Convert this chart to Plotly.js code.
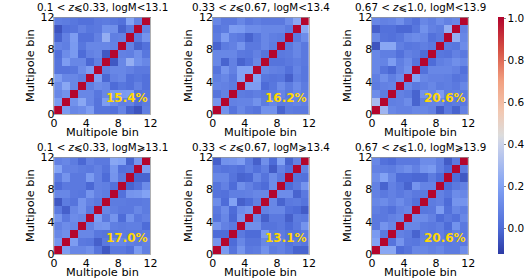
<!DOCTYPE html>
<html><head><meta charset="utf-8">
<script src="https://cdn.plot.ly/plotly-3.0.1.min.js"></script>
<style>html,body{margin:0;padding:0;background:#fff}</style></head>
<body><div id="chart" style="width:525px;height:280px"></div>
<script>
const binCentersX=[0.5,1.5,2.5,3.5,4.5,5.5,6.5,7.5,8.5,9.5,10.5,11.5];
const binCentersY=[11.5,10.5,9.5,8.5,7.5,6.5,5.5,4.5,3.5,2.5,1.5,0.5];
const tickValues=[0,4,8,12];
const titles=["0.1 < <i>z</i>⩽0.33, logM<13.1","0.33 < <i>z</i>⩽0.67, logM<13.4","0.67 < <i>z</i>⩽1.0, logM<13.9",
"0.1 < <i>z</i>⩽0.33, logM⩾13.1","0.33 < <i>z</i>⩽0.67, logM⩾13.4","0.67 < <i>z</i>⩽1.0, logM⩾13.9"];
const percents=["15.4%","16.2%","20.6%","17.0%","13.1%","20.6%"];
const m1=[
[.07,.06,.04,.02,.02,.05,.06,.04,.02,.2,.08,1],
[-.06,.02,.03,.08,.04,.05,.14,.13,-.02,.05,1,.08],
[-.02,.08,.18,.02,.02,.08,.25,.07,.08,1,.05,.15],
[.09,.07,.17,.04,.1,.1,.1,.08,1,.08,-.02,.02],
[.02,.12,.17,.0,.08,.1,-.05,1,.08,.07,.13,.04],
[.03,.18,.1,.1,-.01,.07,1,-.05,.1,.25,.14,.1],
[.03,.03,.04,.12,.18,1,.07,.1,.1,.08,.05,.05],
[.18,.1,.1,.07,1,.18,-.01,.08,.1,.02,.04,.02],
[.12,.22,.1,1,.07,.12,.1,.0,.04,.02,.08,.02],
[.1,.14,1,.1,.1,.04,.1,.17,.17,.18,.03,.04],
[.17,1,.14,.22,.1,.03,.18,.12,.07,.08,.02,.06],
[1,.17,.1,.12,.18,.03,.03,.02,.09,-.02,-.06,.07]];
const m2=[
[.1,.05,.05,.1,.05,.07,.05,.05,.05,.12,.22,1],
[.04,.06,.18,.17,.12,.12,.1,.1,.1,.06,1,.22],
[.06,.18,.07,.05,-.02,.04,.1,.07,.06,1,.05,.12],
[-.02,.06,.08,.15,.05,.05,.1,.06,1,.05,.1,.05],
[.1,.1,.1,.05,.04,.08,.03,1,.05,.06,.1,.05],
[.1,-.02,.08,-.02,.02,.1,1,.03,.03,.05,.07,.05],
[.03,.15,.08,.2,.2,1,.1,.08,.07,.02,.09,.04],
[.07,.1,.05,.2,1,.2,.04,.03,.04,-.03,.07,.04],
[.09,.08,.06,1,.18,.18,.0,.04,.12,.06,.12,.06],
[.03,.08,1,.06,.05,.07,.05,.06,.09,.05,.1,.07],
[.15,1,.08,.09,.09,.14,.06,.1,.06,.07,.09,.07],
[1,.14,.03,.1,.05,.03,.14,.14,-.02,.06,.05,.05]];
const m3=[
[.1,.08,.09,.13,.06,.02,.1,.07,.12,.08,.1,1],
[-.03,.02,.02,-.01,-.01,.04,.14,.08,.06,.25,1,.08],
[.1,.03,.02,.04,.1,.12,.1,.02,.05,1,.25,.1],
[-.06,.22,.22,.07,.04,.05,.07,.05,1,.05,.04,.12],
[.1,.07,.07,.02,.08,.06,.0,1,.04,.03,.08,.05],
[.1,.09,.18,.07,.12,.03,1,.0,.07,.09,.13,.1],
[.1,.03,-.01,.08,.14,1,.02,.1,.1,.1,.08,.02],
[.07,.13,.07,.12,1,.2,.1,.08,.08,.07,.03,.05],
[.06,.08,.09,1,.1,.05,.07,.1,.06,.07,.05,.1],
[.12,.06,1,.08,.06,-.02,.14,.1,.18,.07,.08,.06],
[.3,1,.07,.08,.12,-.02,.08,.09,.1,.04,.06,.05],
[1,.28,.1,.08,.08,.1,.1,.08,-.04,.05,-.02,.08]];
const m4=[
[.08,.1,.06,-.01,.08,.05,.05,.22,.2,-.02,.15,1],
[.2,.08,.08,.06,.05,.08,.03,.16,.02,.03,1,.18],
[.06,.15,.05,.05,.17,.08,.0,.15,.05,1,-.02,-.02],
[.0,.05,.05,.05,-.01,.08,.07,.02,1,-.02,.02,.12],
[.1,.1,.05,.04,.15,.08,.06,1,.02,.15,.16,.2],
[-.05,.06,.03,.15,.08,.05,1,.06,.06,.05,.05,.06],
[.05,-.03,.1,.15,.05,1,.1,.07,.05,.05,.1,.06],
[.15,.05,.12,.1,1,.18,.05,.15,.0,.14,.05,.08],
[.08,.12,.1,1,.08,.15,.16,.07,.06,.07,.07,.0],
[.1,.13,1,.1,.1,.04,.03,.05,.06,.05,.05,.06],
[.15,1,.18,.05,.04,-.03,.05,.1,.1,.07,.06,.08],
[1,.18,.1,.1,.13,.03,-.05,.05,.05,.02,.17,.07]];
const m5=[
[-.03,.14,.15,.18,.06,-.03,.13,.0,.2,-.02,.08,1],
[.05,.03,.04,.02,.07,.02,.07,-.04,.08,.02,1,.08],
[.1,.1,.03,-.02,-.01,.1,.03,.12,.05,1,.03,.02],
[.03,.08,.0,.13,.08,.03,.0,.12,1,.0,.05,.15],
[.03,.02,.07,.07,.08,.1,.1,1,.12,.12,-.02,.05],
[.12,.0,.2,-.03,.0,.07,1,.1,-.02,.05,.06,.03],
[.05,.12,.0,.12,.15,1,.08,.1,.1,.02,.0,-.04],
[.03,.1,-.01,.15,1,.1,-.03,.05,.05,-.03,.06,.05],
[.15,.08,.05,1,.13,.13,.03,.03,.05,0,.05,.15],
[.0,.0,1,.05,.0,.0,.17,.06,.06,.03,.03,.06],
[.15,1,.0,.1,.03,.03,.1,.08,.08,.03,.06,.04],
[1,.17,.03,.15,.05,.06,.14,.06,.08,.04,-.02,-.02]];
const m6=[
[.1,.02,0,.05,.05,.05,.12,.12,.07,-.04,.05,1],
[.08,.07,.06,.1,.13,.08,.15,.17,.07,.0,1,.05],
[.12,.2,.1,.0,.0,-.01,-.01,.06,.0,1,.0,-.05],
[.08,-.02,.08,.04,-.02,.15,.09,.09,1,.0,.05,.08],
[.08,.05,.08,.05,.08,.05,.05,1,.08,.04,.12,.1],
[.1,.12,.08,.12,.07,.02,1,.06,.08,.0,.15,.15],
[.07,.05,.02,.08,.1,1,.04,.05,.18,.02,.1,.07],
[.05,.05,.08,.1,1,.12,.12,.08,.0,.05,.02,.1],
[.05,.15,.1,1,.1,.1,.06,.05,.07,.0,.14,.05],
[.17,.05,1,.08,.06,-.02,.07,.05,.07,.03,.08,.05],
[.2,1,.03,.15,.05,.04,.08,.07,.07,.05,.06,.05],
[1,.22,.22,.0,.03,.1,.1,.08,.1,.06,.06,.12]];
const matrices=[m1,m2,m3,m4,m5,m6];
const colorStops=[[0,"#2c3aa4"],[.11,"#4e6cd8"],[.287,"#82a2f4"],[.464,"#ccd3ea"],[.5,"#dcdcdc"],[.6,"#f2c8b2"],[.73,"#f2a080"],[.86,"#d65244"],[1,"#b2032c"]];

const W=525,H=280;
const lefts=[54.3,213.5,373.3], tops=[17.3,157.3], size=96.7, F="DejaVu Sans, sans-serif";
const data=[],layout={width:W,height:H,margin:{l:0,r:0,t:0,b:0},paper_bgcolor:"#fff",plot_bgcolor:"#fff",showlegend:false,annotations:[],
 font:{family:F,color:"#000"},
 coloraxis:{cmin:-.124,cmax:1.007,colorscale:colorStops,colorbar:{
   thickness:5.5,thicknessmode:"pixels",len:236.7,lenmode:"pixels",x:500/W,xanchor:"left",y:1-17.3/H,yanchor:"top",
   tickvals:[0,.2,.4,.6,.8,1],ticktext:["0.0","0.2","0.4","0.6","0.8","1.0"],ticks:"outside",ticklen:2,tickwidth:.6,tickcolor:"#333",
   tickfont:{size:10.5,family:F,color:"#000"},outlinewidth:0,xpad:0,ypad:0}}};
matrices.forEach((z,i)=>{
  const r=Math.floor(i/3),c=i%3,n=i+1,sx=n===1?"":n;
  data.push({type:"heatmap",x:binCentersX,y:binCentersY,z:z,coloraxis:"coloraxis",xaxis:"x"+sx,yaxis:"y"+sx,xgap:0,ygap:0});
  const base={range:[0,12],tickmode:"array",tickvals:tickValues,ticks:"",showgrid:false,zeroline:false,showline:true,linewidth:.5,linecolor:"#666",mirror:true,
     tickfont:{size:11,family:F,color:"#000"},automargin:false};
  layout["xaxis"+sx]=Object.assign({},base,{domain:[lefts[c]/W,(lefts[c]+size)/W],anchor:"y"+sx,ticklabelstandoff:-1});
  layout["yaxis"+sx]=Object.assign({},base,{domain:[1-(tops[r]+size)/H,1-tops[r]/H],anchor:"x"+sx,
     ticklabelstandoff:-3,title:{text:"Multipole bin",font:{size:11.3,family:F,color:"#000"},standoff:3}});
  layout.annotations.push({xref:"x"+sx,yref:"y"+sx,x:9.1,y:1.95,text:percents[i],showarrow:false,xanchor:"center",yanchor:"middle",
     font:{size:12,family:F,color:"#FFD700",weight:"bold"}});
  layout.annotations.push({xref:"paper",yref:"paper",x:(lefts[c]+size/2)/W,y:1-(tops[r]-2)/H,text:titles[i],showarrow:false,xanchor:"center",yanchor:"bottom",
     font:{size:10.3,family:F,color:"#000"}});
  layout.annotations.push({xref:"paper",yref:"paper",x:(lefts[c]+size/2)/W,y:1-(tops[r]+size+18)/H,text:"Multipole bin",showarrow:false,xanchor:"center",yanchor:"middle",
     font:{size:11.3,family:F,color:"#000"}});
});
Plotly.newPlot("chart",data,layout,{displayModeBar:false,staticPlot:true});
</script></body></html>
